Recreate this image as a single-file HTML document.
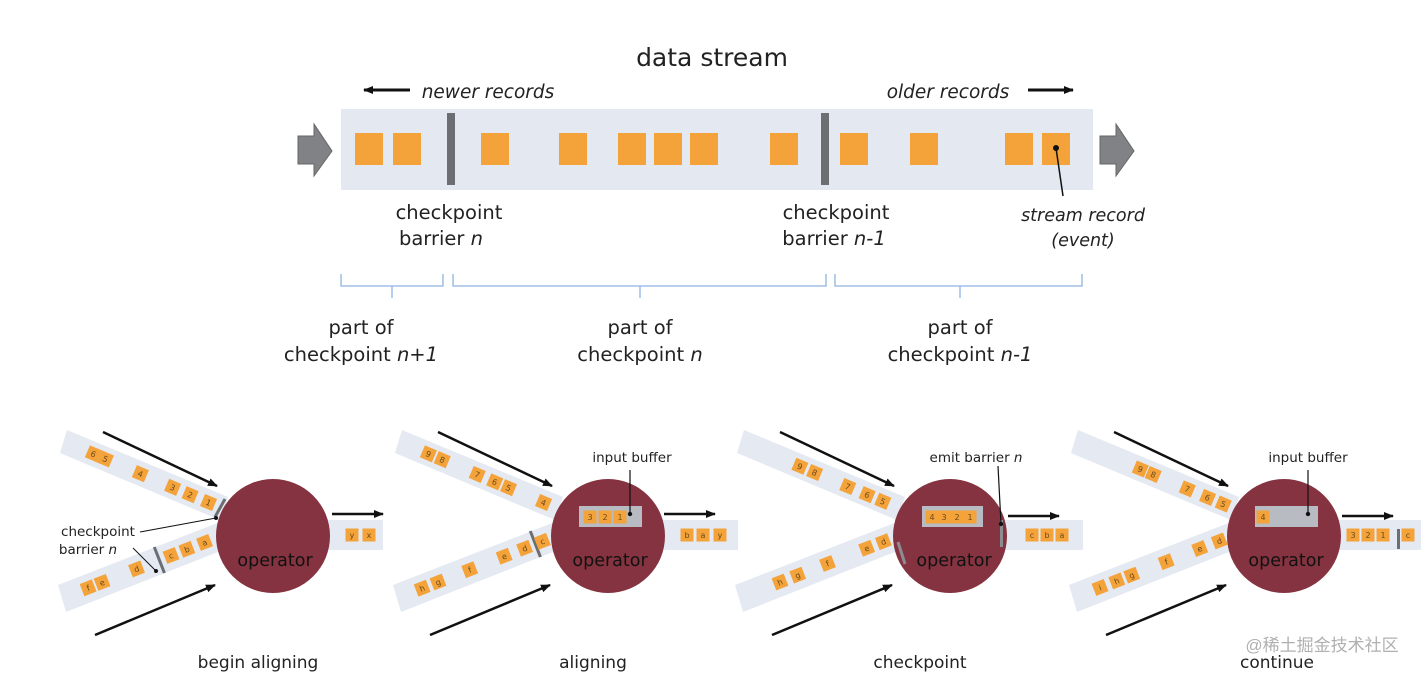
<!DOCTYPE html>
<html><head><meta charset="utf-8"><style>
html,body{margin:0;padding:0;background:#fff;}
svg{display:block;font-family:"DejaVu Sans","Liberation Sans",sans-serif;}
.sq{fill:#f4a23a;}
.lt{font-size:8px;fill:#6b4a1a;text-anchor:middle;}
.band{fill:#e4e9f2;}
.cap{font-size:17px;fill:#222;text-anchor:middle;}
.lbl{font-size:13.5px;fill:#222;text-anchor:middle;}
.big{font-size:19.5px;fill:#222;text-anchor:middle;}
</style></head><body>
<svg width="1421" height="674" viewBox="0 0 1421 674" xmlns="http://www.w3.org/2000/svg">
<defs>
<marker id="ah" markerWidth="10" markerHeight="8" refX="9" refY="4" orient="auto" markerUnits="userSpaceOnUse"><path d="M0,0 L10,4 L0,8 z" fill="#111"/></marker>
<g id="it"><rect class="sq" x="-6.5" y="-6.5" width="13" height="13"/></g>
</defs>

<!-- TOP -->
<text x="712" y="66" font-size="25" fill="#222" text-anchor="middle">data stream</text>
<line x1="410" y1="90" x2="364" y2="90" stroke="#111" stroke-width="3" marker-end="url(#ah)"/>
<text x="488" y="98" font-size="18.5" font-style="italic" fill="#222" text-anchor="middle">newer records</text>
<text x="948" y="98" font-size="18.5" font-style="italic" fill="#222" text-anchor="middle">older records</text>
<line x1="1028" y1="90" x2="1073" y2="90" stroke="#111" stroke-width="3" marker-end="url(#ah)"/>
<rect x="341" y="109" width="752" height="81" fill="#e3e8f1"/>
<path d="M298,136 H314 V124 L332,151 L314,176 V164 H298 Z" fill="#808285" stroke="#666" stroke-width="1"/>
<path d="M1100,136 H1116 V124 L1134,151 L1116,176 V164 H1100 Z" fill="#808285" stroke="#666" stroke-width="1"/>
<g fill="#f4a23a">
<rect x="355" y="133" width="28" height="32"/><rect x="393" y="133" width="28" height="32"/>
<rect x="481" y="133" width="28" height="32"/><rect x="559" y="133" width="28" height="32"/>
<rect x="618" y="133" width="28" height="32"/><rect x="654" y="133" width="28" height="32"/>
<rect x="690" y="133" width="28" height="32"/><rect x="770" y="133" width="28" height="32"/>
<rect x="840" y="133" width="28" height="32"/><rect x="910" y="133" width="28" height="32"/>
<rect x="1005" y="133" width="28" height="32"/><rect x="1042" y="133" width="28" height="32"/>
</g>
<rect x="447" y="113" width="8" height="72" fill="#6b6e73"/>
<rect x="821" y="113" width="8" height="72" fill="#6b6e73"/>
<circle cx="1056" cy="148" r="3" fill="#111"/>
<line x1="1056" y1="148" x2="1063" y2="196" stroke="#111" stroke-width="1.5"/>
<text class="big" x="449" y="219">checkpoint</text>
<text class="big" x="441" y="245">barrier <tspan font-style="italic">n</tspan></text>
<text class="big" x="836" y="219">checkpoint</text>
<text class="big" x="834" y="245">barrier <tspan font-style="italic">n-1</tspan></text>
<text x="1083" y="221" font-size="17.5" font-style="italic" fill="#222" text-anchor="middle">stream record</text>
<text x="1083" y="246" font-size="17.5" font-style="italic" fill="#222" text-anchor="middle">(event)</text>
<g fill="none" stroke="#8fb3e0" stroke-width="1.3">
<path d="M341,274 V286 H443 V274 M392,286 V298"/>
<path d="M453,274 V286 H826 V274 M640,286 V298"/>
<path d="M835,274 V286 H1082 V274 M960,286 V298"/>
</g>
<text class="big" x="361" y="334">part of</text>
<text class="big" x="361" y="361">checkpoint <tspan font-style="italic">n+1</tspan></text>
<text class="big" x="640" y="334">part of</text>
<text class="big" x="640" y="361">checkpoint <tspan font-style="italic">n</tspan></text>
<text class="big" x="960" y="334">part of</text>
<text class="big" x="960" y="361">checkpoint <tspan font-style="italic">n-1</tspan></text>

<!-- PANEL 1 -->
<g transform="translate(273,536)">
<polygon class="band" points="-206,-106 -45,-39 -53,-16 -213,-83"/>
<polygon class="band" points="-215,49 -53,-14 -45,12 -207,76"/>
<rect class="band" x="50" y="-16" width="60" height="30"/>
<line x1="-170" y1="-104" x2="-56" y2="-50" stroke="#111" stroke-width="2.5" marker-end="url(#ah)"/>
<line x1="-178" y1="99" x2="-58" y2="49" stroke="#111" stroke-width="2.5" marker-end="url(#ah)"/>
<line x1="59" y1="-22" x2="110" y2="-22" stroke="#111" stroke-width="2.5" marker-end="url(#ah)"/>
<g transform="translate(-210,-95) rotate(22.9)">
<g transform="translate(33,0)"><use href="#it"/><text class="lt" y="3">6</text></g>
<g transform="translate(46,0)"><use href="#it"/><text class="lt" y="3">5</text></g>
<g transform="translate(84,0)"><use href="#it"/><text class="lt" y="3">4</text></g>
<g transform="translate(119,0)"><use href="#it"/><text class="lt" y="3">3</text></g>
<g transform="translate(138,0)"><use href="#it"/><text class="lt" y="3">2</text></g>
<g transform="translate(158,0)"><use href="#it"/><text class="lt" y="3">1</text></g>
</g>
<g transform="translate(-211,62) rotate(-21.3)">
<g transform="translate(28,0)"><use href="#it"/><text class="lt" y="3">f</text></g>
<g transform="translate(43,0)"><use href="#it"/><text class="lt" y="3">e</text></g>
<g transform="translate(80,0)"><use href="#it"/><text class="lt" y="3">d</text></g>
<rect x="103" y="-14" width="3" height="28" fill="#6b6e73"/>
<g transform="translate(117,0)"><use href="#it"/><text class="lt" y="3">c</text></g>
<g transform="translate(134,0)"><use href="#it"/><text class="lt" y="3">b</text></g>
<g transform="translate(153,0)"><use href="#it"/><text class="lt" y="3">a</text></g>
</g>
<line x1="-58" y1="-19" x2="-48" y2="-37" stroke="#6b6e73" stroke-width="3"/>
<circle cx="0" cy="0" r="57" fill="#853340"/>
<text x="2" y="30" font-size="17.5" fill="#111" text-anchor="middle">operator</text>
<g transform="translate(79,-1)"><use href="#it"/><text class="lt" y="3">y</text></g>
<g transform="translate(96,-1)"><use href="#it"/><text class="lt" y="3">x</text></g>
<text class="lbl" x="-175" y="0">checkpoint</text>
<text class="lbl" x="-185" y="18">barrier <tspan font-style="italic">n</tspan></text>
<line x1="-133" y1="-4" x2="-57" y2="-18" stroke="#111" stroke-width="1"/>
<circle cx="-57" cy="-18" r="2" fill="#111"/>
<line x1="-140" y1="12" x2="-117" y2="35" stroke="#111" stroke-width="1"/>
<circle cx="-117" cy="35" r="2" fill="#111"/>
</g>

<!-- PANEL 2 -->
<g transform="translate(608,536)">
<polygon class="band" points="-206,-106 -45,-39 -53,-16 -213,-83"/>
<polygon class="band" points="-215,49 -53,-14 -45,12 -207,76"/>
<rect class="band" x="50" y="-16" width="80" height="30"/>
<line x1="-170" y1="-104" x2="-56" y2="-50" stroke="#111" stroke-width="2.5" marker-end="url(#ah)"/>
<line x1="-178" y1="99" x2="-58" y2="49" stroke="#111" stroke-width="2.5" marker-end="url(#ah)"/>
<line x1="56" y1="-22" x2="107" y2="-22" stroke="#111" stroke-width="2.5" marker-end="url(#ah)"/>
<g transform="translate(-210,-95) rotate(22.9)">
<g transform="translate(33,0)"><use href="#it"/><text class="lt" y="3">9</text></g>
<g transform="translate(48,0)"><use href="#it"/><text class="lt" y="3">8</text></g>
<g transform="translate(86,0)"><use href="#it"/><text class="lt" y="3">7</text></g>
<g transform="translate(105,0)"><use href="#it"/><text class="lt" y="3">6</text></g>
<g transform="translate(120,0)"><use href="#it"/><text class="lt" y="3">5</text></g>
<g transform="translate(158,0)"><use href="#it"/><text class="lt" y="3">4</text></g>
</g>
<g transform="translate(-211,62) rotate(-21.3)">
<g transform="translate(27,0)"><use href="#it"/><text class="lt" y="3">h</text></g>
<g transform="translate(44,0)"><use href="#it"/><text class="lt" y="3">g</text></g>
<g transform="translate(78,0)"><use href="#it"/><text class="lt" y="3">f</text></g>
<g transform="translate(115,0)"><use href="#it"/><text class="lt" y="3">e</text></g>
<g transform="translate(137,0)"><use href="#it"/><text class="lt" y="3">d</text></g>
<rect x="147" y="-14" width="3" height="28" fill="#6b6e73"/>
<g transform="translate(156,0)"><use href="#it"/><text class="lt" y="3">c</text></g>
</g>
<circle cx="0" cy="0" r="57" fill="#853340"/>
<text x="2" y="30" font-size="17.5" fill="#111" text-anchor="middle">operator</text>
<rect x="-29" y="-30" width="63" height="21" fill="#b8bcc2"/>
<g transform="translate(-18,-19)"><use href="#it"/><text class="lt" y="3">3</text></g>
<g transform="translate(-3,-19)"><use href="#it"/><text class="lt" y="3">2</text></g>
<g transform="translate(12,-19)"><use href="#it"/><text class="lt" y="3">1</text></g>
<line x1="22" y1="-66" x2="22" y2="-22" stroke="#111" stroke-width="1.2"/>
<circle cx="22" cy="-22" r="2.2" fill="#111"/>
<text class="lbl" x="24" y="-74">input buffer</text>
<g transform="translate(79,-1)"><use href="#it"/><text class="lt" y="3">b</text></g>
<g transform="translate(95,-1)"><use href="#it"/><text class="lt" y="3">a</text></g>
<g transform="translate(112,-1)"><use href="#it"/><text class="lt" y="3">y</text></g>
</g>

<!-- PANEL 3 -->
<g transform="translate(950,536)">
<polygon class="band" points="-206,-106 -45,-39 -53,-16 -213,-83"/>
<polygon class="band" points="-215,49 -53,-14 -45,12 -207,76"/>
<rect class="band" x="50" y="-16" width="83" height="30"/>
<line x1="-170" y1="-104" x2="-56" y2="-50" stroke="#111" stroke-width="2.5" marker-end="url(#ah)"/>
<line x1="-178" y1="99" x2="-58" y2="49" stroke="#111" stroke-width="2.5" marker-end="url(#ah)"/>
<line x1="58" y1="-20" x2="109" y2="-20" stroke="#111" stroke-width="2.5" marker-end="url(#ah)"/>
<g transform="translate(-210,-95) rotate(22.9)">
<g transform="translate(65,0)"><use href="#it"/><text class="lt" y="3">9</text></g>
<g transform="translate(81,0)"><use href="#it"/><text class="lt" y="3">8</text></g>
<g transform="translate(117,0)"><use href="#it"/><text class="lt" y="3">7</text></g>
<g transform="translate(138,0)"><use href="#it"/><text class="lt" y="3">6</text></g>
<g transform="translate(155,0)"><use href="#it"/><text class="lt" y="3">5</text></g>
</g>
<g transform="translate(-211,62) rotate(-21.3)">
<g transform="translate(44,0)"><use href="#it"/><text class="lt" y="3">h</text></g>
<g transform="translate(63,0)"><use href="#it"/><text class="lt" y="3">g</text></g>
<g transform="translate(95,0)"><use href="#it"/><text class="lt" y="3">f</text></g>
<g transform="translate(137,0)"><use href="#it"/><text class="lt" y="3">e</text></g>
<g transform="translate(155,0)"><use href="#it"/><text class="lt" y="3">d</text></g>
</g>
<circle cx="0" cy="0" r="57" fill="#853340"/>
<line x1="-52" y1="6" x2="-45" y2="28" stroke="#8a8d92" stroke-width="3"/>
<text x="4" y="30" font-size="17.5" fill="#111" text-anchor="middle">operator</text>
<rect x="-28" y="-30" width="61" height="21" fill="#b8bcc2"/>
<g transform="translate(-18,-19)"><use href="#it"/><text class="lt" y="3">4</text></g>
<g transform="translate(-6,-19)"><use href="#it"/><text class="lt" y="3">3</text></g>
<g transform="translate(7,-19)"><use href="#it"/><text class="lt" y="3">2</text></g>
<g transform="translate(20,-19)"><use href="#it"/><text class="lt" y="3">1</text></g>
<rect x="50" y="-16" width="3" height="27" fill="#8a8d92"/>
<line x1="48" y1="-70" x2="51" y2="-12" stroke="#111" stroke-width="1.2"/>
<circle cx="51" cy="-12" r="2.2" fill="#111"/>
<text class="lbl" x="26" y="-74">emit barrier <tspan font-style="italic">n</tspan></text>
<g transform="translate(82,-1)"><use href="#it"/><text class="lt" y="3">c</text></g>
<g transform="translate(97,-1)"><use href="#it"/><text class="lt" y="3">b</text></g>
<g transform="translate(112,-1)"><use href="#it"/><text class="lt" y="3">a</text></g>
</g>

<!-- PANEL 4 -->
<g transform="translate(1284,536)">
<polygon class="band" points="-206,-106 -45,-39 -53,-16 -213,-83"/>
<polygon class="band" points="-215,49 -53,-14 -45,12 -207,76"/>
<rect class="band" x="50" y="-16" width="90" height="30"/>
<line x1="-170" y1="-104" x2="-56" y2="-50" stroke="#111" stroke-width="2.5" marker-end="url(#ah)"/>
<line x1="-178" y1="99" x2="-58" y2="49" stroke="#111" stroke-width="2.5" marker-end="url(#ah)"/>
<line x1="58" y1="-20" x2="109" y2="-20" stroke="#111" stroke-width="2.5" marker-end="url(#ah)"/>
<g transform="translate(-210,-95) rotate(22.9)">
<g transform="translate(72,0)"><use href="#it"/><text class="lt" y="3">9</text></g>
<g transform="translate(86,0)"><use href="#it"/><text class="lt" y="3">8</text></g>
<g transform="translate(123,0)"><use href="#it"/><text class="lt" y="3">7</text></g>
<g transform="translate(145,0)"><use href="#it"/><text class="lt" y="3">6</text></g>
<g transform="translate(162,0)"><use href="#it"/><text class="lt" y="3">5</text></g>
</g>
<g transform="translate(-211,62) rotate(-21.3)">
<g transform="translate(29,0)"><use href="#it"/><text class="lt" y="3">i</text></g>
<g transform="translate(47,0)"><use href="#it"/><text class="lt" y="3">h</text></g>
<g transform="translate(63,0)"><use href="#it"/><text class="lt" y="3">g</text></g>
<g transform="translate(100,0)"><use href="#it"/><text class="lt" y="3">f</text></g>
<g transform="translate(136,0)"><use href="#it"/><text class="lt" y="3">e</text></g>
<g transform="translate(157,0)"><use href="#it"/><text class="lt" y="3">d</text></g>
</g>
<circle cx="0" cy="0" r="57" fill="#853340"/>
<text x="2" y="30" font-size="17.5" fill="#111" text-anchor="middle">operator</text>
<rect x="-29" y="-30" width="63" height="21" fill="#b8bcc2"/>
<g transform="translate(-21,-19)"><use href="#it"/><text class="lt" y="3">4</text></g>
<line x1="24" y1="-66" x2="24" y2="-22" stroke="#111" stroke-width="1.2"/>
<circle cx="24" cy="-22" r="2.2" fill="#111"/>
<text class="lbl" x="24" y="-74">input buffer</text>
<g transform="translate(69,-1)"><use href="#it"/><text class="lt" y="3">3</text></g>
<g transform="translate(84,-1)"><use href="#it"/><text class="lt" y="3">2</text></g>
<g transform="translate(99,-1)"><use href="#it"/><text class="lt" y="3">1</text></g>
<rect x="113" y="-7" width="3" height="20" fill="#6b6e73"/>
<g transform="translate(124,-1)"><use href="#it"/><text class="lt" y="3">c</text></g>
</g>

<text class="cap" x="258" y="668">begin aligning</text>
<text class="cap" x="593" y="668">aligning</text>
<text class="cap" x="920" y="668">checkpoint</text>
<text class="cap" x="1277" y="668">continue</text>
<text x="1322" y="651" font-size="17" fill="#b0b0b0" text-anchor="middle" font-family="'Liberation Sans','Noto Sans CJK SC',sans-serif">@稀土掘金技术社区</text>
</svg>
</body></html>
